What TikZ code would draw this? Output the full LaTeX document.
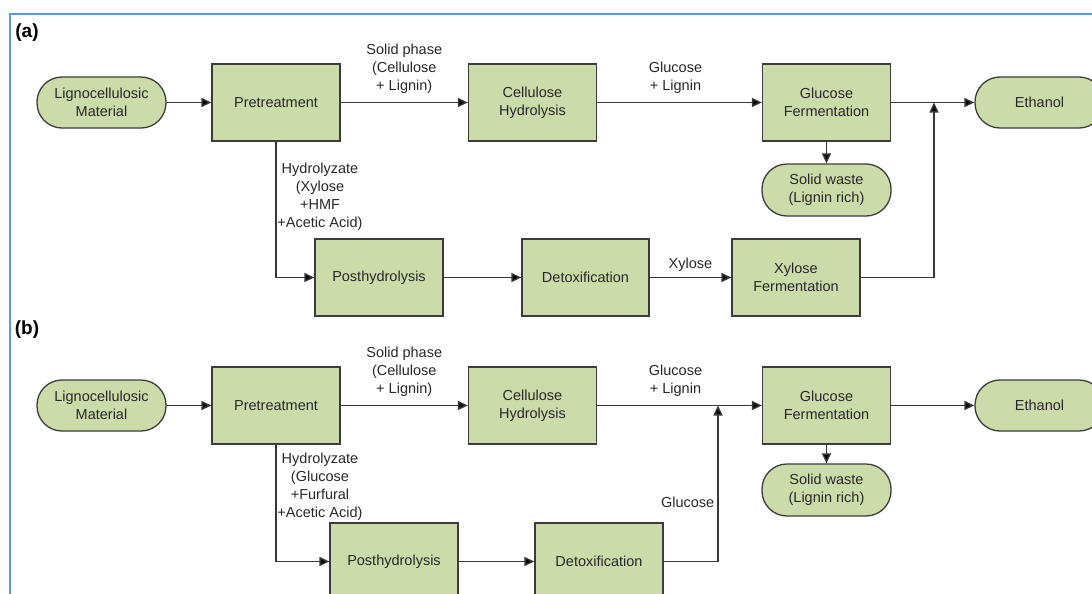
\documentclass[tikz,border=0pt]{standalone}
\usepackage{fontspec}
\setmainfont{Liberation Sans}
\usetikzlibrary{arrows.meta, positioning}
\definecolor{boxgreen}{RGB}{204,219,170}
\definecolor{edgegray}{RGB}{60,60,60}
\definecolor{linegray}{RGB}{55,55,55}
\definecolor{frameblue}{RGB}{91,155,213}
\definecolor{txtgray}{RGB}{40,40,40}

\begin{document}
\begin{tikzpicture}[x=1pt, y=-1pt, font=\fontsize{14.5}{18}\selectfont, text=txtgray,
  proc/.style={rectangle, draw=edgegray, fill=boxgreen, line width=1.3pt, minimum width=128pt, minimum height=77pt, align=center, inner sep=2pt},
  term/.style={rectangle, rounded corners=25pt, draw=edgegray, fill=boxgreen, line width=1.3pt, minimum width=129pt, minimum height=51pt, align=center, inner sep=2pt},
  flow/.style={draw=linegray, line width=1.4pt, -{Triangle[length=10pt, width=9pt, fill=black]}},
  lbl/.style={align=center, inner sep=1pt},
  panel/.style={font=\fontsize{19}{22}\selectfont\bfseries, text=black}]
\useasboundingbox (0,0) rectangle (1092,594);
\clip (0,0) rectangle (1092,594);
\draw[frameblue, line width=2pt] (10,594) -- (10,14) -- (1092,14);

% panel (a)
\node[panel] (taga) at (27,33) {(a)};
\node[term] (liga) at (101.5,102.5) {Lignocellulosic\\Material};
\node[proc] (prea) at (276,102.5) {Pretreatment};
\node[proc] (cela) at (532.5,102.5) {Cellulose\\Hydrolysis};
\node[proc] (gfea) at (826.5,102.5) {Glucose\\Fermentation};
\node[term] (etha) at (1039.5,102.5) {Ethanol};
\node[term, minimum height=52pt] (swa) at (826.5,190) {Solid waste\\(Lignin rich)};
\node[proc] (posa) at (379,277.5) {Posthydrolysis};
\node[proc, minimum width=127pt] (deta) at (585.5,277.5) {Detoxification};
\node[proc] (xfea) at (796,277.5) {Xylose\\Fermentation};
\coordinate (ja) at (934,102.5);
\node[lbl] (hyda) at (320,197) {Hydrolyzate\\(Xylose\\+HMF\\+Acetic Acid)};

\draw[flow] (liga) -- (prea);
\draw[flow] (prea) -- node[lbl, above=7pt] {Solid phase\\(Cellulose\\+ Lignin)} (cela);
\draw[flow] (cela) -- node[lbl, above=7pt, xshift=-4pt] {Glucose\\+ Lignin} (gfea);
\draw[flow] (gfea) -- (etha);
\draw[flow] (gfea) -- (swa);
\draw[flow] (prea.south) |- (posa.west);
\draw[flow] (posa) -- (deta);
\draw[flow] (deta) -- node[lbl, above=4pt] {Xylose} (xfea);
\draw[flow] (xfea.east) -| (ja);

% panel (b)
\node[panel] (tagb) at (27,330) {(b)};
\node[term] (ligb) at (101.5,405.5) {Lignocellulosic\\Material};
\node[proc] (preb) at (276,405.5) {Pretreatment};
\node[proc] (celb) at (532.5,405.5) {Cellulose\\Hydrolysis};
\node[proc] (gfeb) at (826.5,405.5) {Glucose\\Fermentation};
\node[term] (ethb) at (1039.5,405.5) {Ethanol};
\node[term, minimum height=52pt] (swb) at (826.5,490) {Solid waste\\(Lignin rich)};
\node[proc] (posb) at (394,561.5) {Posthydrolysis};
\node[proc] (detb) at (599,561.5) {Detoxification};
\coordinate (jb) at (718,405.5);
\node[lbl] (hydb) at (320,486.5) {Hydrolyzate\\(Glucose\\+Furfural\\+Acetic Acid)};

\draw[flow] (ligb) -- (preb);
\draw[flow] (preb) -- node[lbl, above=7pt] {Solid phase\\(Cellulose\\+ Lignin)} (celb);
\draw[flow] (celb) -- node[lbl, above=7pt, xshift=-4pt] {Glucose\\+ Lignin} (gfeb);
\draw[flow] (gfeb) -- (ethb);
\draw[flow] (gfeb) -- (swb);
\draw[flow] (preb.south) |- (posb.west);
\draw[flow] (posb) -- (detb);
\draw[flow] (detb.east) -| node[lbl, pos=0.69, left=2pt] {Glucose} (jb);
\end{tikzpicture}
\end{document}
